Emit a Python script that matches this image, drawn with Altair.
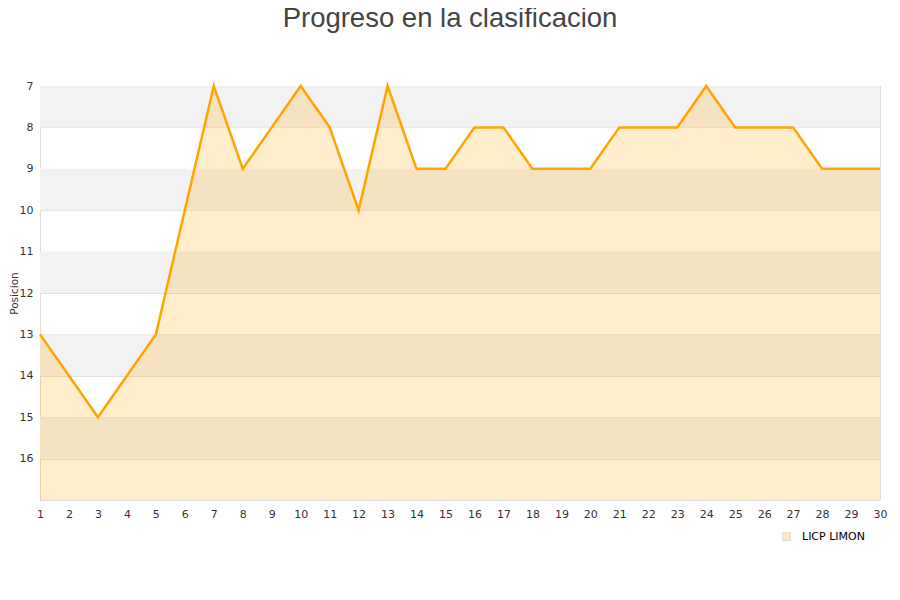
import altair as alt
import pandas as pd

jornadas = list(range(1, 31))
posiciones = [13, 14, 15, 14, 13, 10, 7, 9, 8, 7, 8, 10, 7, 9, 9, 8, 8, 9, 9, 9,
              8, 8, 8, 7, 8, 8, 8, 9, 9, 9]
equipo = "LICP LIMON"
band_starts = [7, 9, 11, 13, 15]
y_ticks = list(range(7, 17))

df = pd.DataFrame({"jornada": jornadas, "pos": posiciones, "equipo": equipo})
df["base"] = 17
bands = pd.DataFrame({"y1": band_starts, "y2": [b + 1 for b in band_starts],
                      "x1": 1, "x2": 30})

xs = alt.Scale(domain=[1, 30], nice=False, zero=False)
ys = alt.Scale(domain=[7, 17], reverse=True, nice=False, zero=False)

x_axis = alt.Axis(values=jornadas, title=None, grid=False, domain=False,
                  ticks=False, labelPadding=8, labelFontSize=11,
                  labelOverlap=False, labelFlush=False, labelBound=False,
                  labelColor="#333333", labelFont="DejaVu Sans")
y_axis = alt.Axis(values=y_ticks, title="Posicion", grid=True,
                  gridColor="#e0e0e0", domain=False, ticks=False,
                  labelOverlap=False, labelFlush=False,
                  labelPadding=7, labelFontSize=11, labelColor="#333333",
                  labelFont="DejaVu Sans", titleFont="DejaVu Sans",
                  titleFontSize=10.5, titleFontWeight="normal",
                  titleColor="#333333", titlePadding=0)

band_layer = alt.Chart(bands).mark_rect(color="#f2f2f2").encode(
    x=alt.X("x1:Q", scale=xs, axis=x_axis),
    x2="x2:Q",
    y=alt.Y("y1:Q", scale=ys, axis=y_axis),
    y2="y2:Q",
)

area_layer = alt.Chart(df).mark_area(opacity=0.2).encode(
    x=alt.X("jornada:Q", scale=xs, axis=x_axis),
    y=alt.Y("pos:Q", scale=ys, axis=y_axis),
    y2="base:Q",
    color=alt.Color("equipo:N", scale=alt.Scale(range=["#ffa500"]),
                    legend=alt.Legend(title=None, orient="none", legendX=741,
                                      legendY=445, symbolType="square",
                                      symbolStrokeColor="#8a7a5a",
                                      symbolStrokeWidth=1, symbolSize=64,
                                      symbolOpacity=0.25,
                                      labelOffset=10,
                                      labelFont="DejaVu Sans", labelFontSize=11,
                                      labelColor="#000000")),
)

line_layer = alt.Chart(df).mark_line(color="#ffa500", strokeWidth=2.5).encode(
    x=alt.X("jornada:Q", scale=xs, axis=x_axis),
    y=alt.Y("pos:Q", scale=ys, axis=y_axis),
)

chart = alt.layer(band_layer, area_layer, line_layer).properties(
    width=840, height=414,
    title=alt.TitleParams("Progreso en la clasificacion", font="Liberation Sans",
                          fontSize=27.5, fontWeight="normal", color="#444444",
                          anchor="middle", offset=48, dx=-10),
    padding={"left": 32, "top": 78, "right": 10, "bottom": 80},
    autosize=alt.AutoSizeParams(type="none"),
).configure_view(stroke="#dddddd", strokeWidth=1).configure_axis(
    labelOverlap=False, labelFlush=False)

chart.save("out.html", embed_options={"renderer": "svg", "actions": False})
